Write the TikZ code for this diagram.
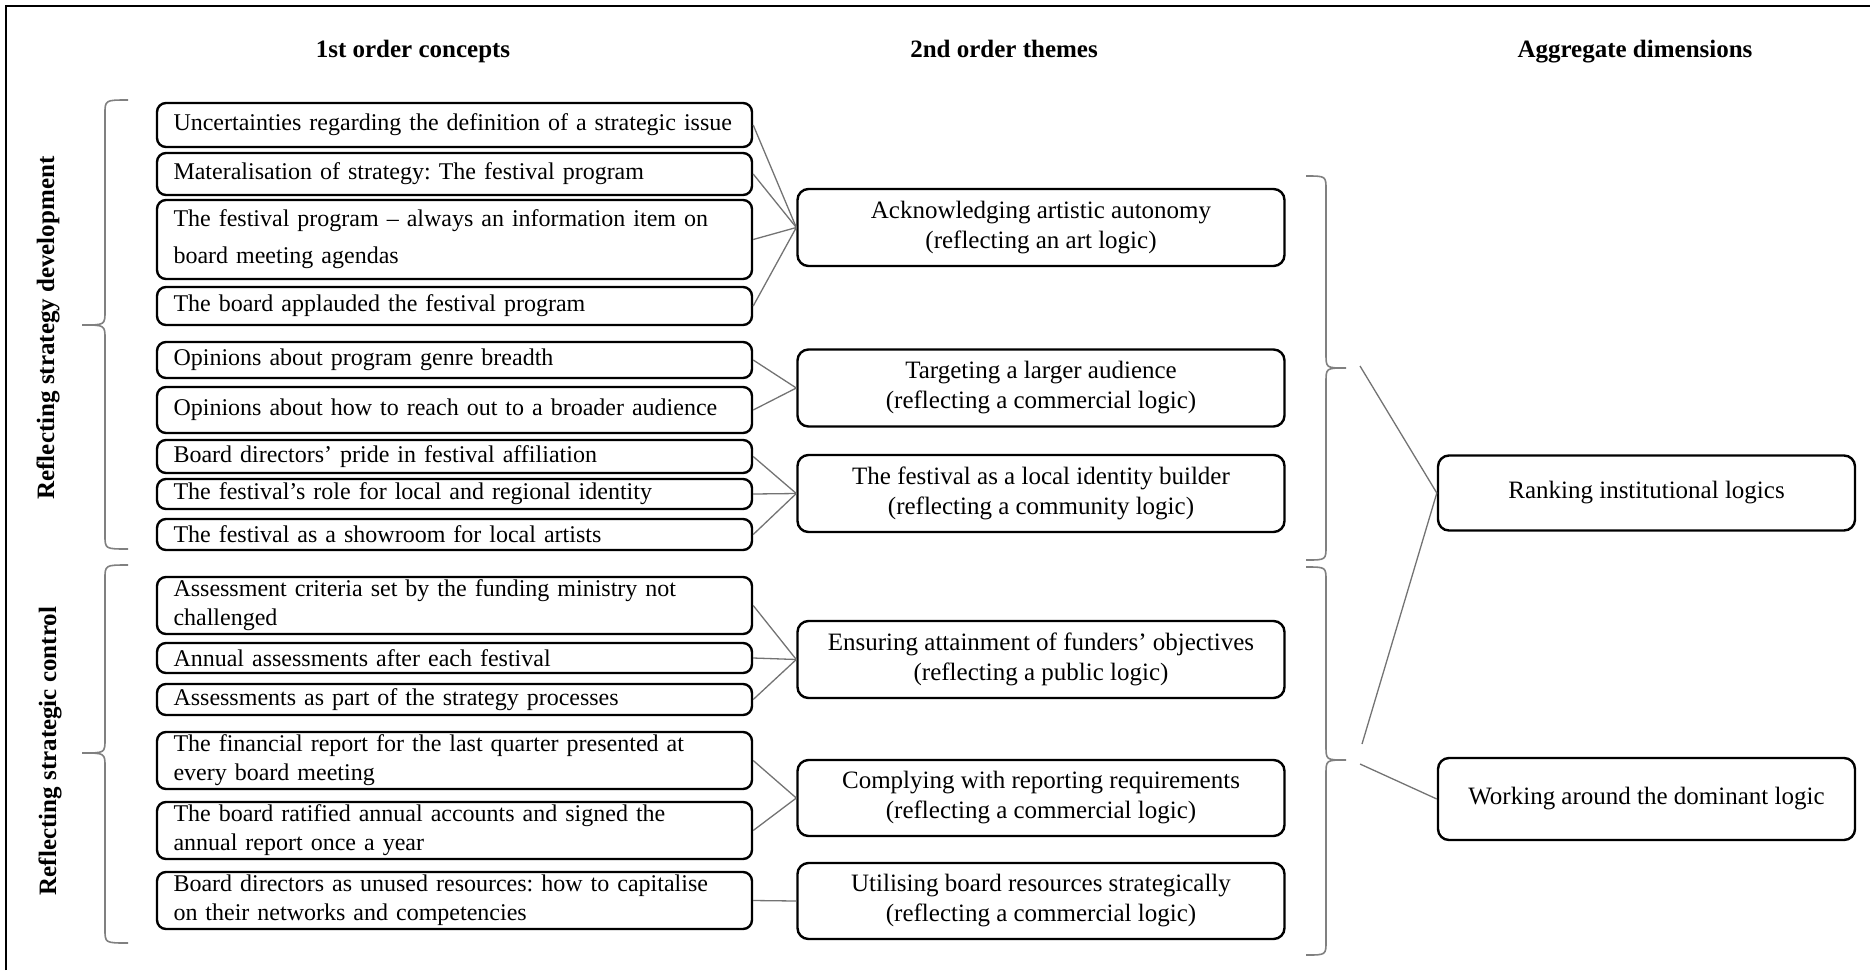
\documentclass[tikz,border=0pt]{standalone}
\usepackage{fontspec}
\setmainfont{Liberation Serif}
\usetikzlibrary{positioning}

\tikzset{
    concept/.style={draw, line width=2.4pt, rounded corners=9pt, align=left,
        text width=562pt, inner xsep=16.5pt, inner ysep=0pt,
        font=\fontsize{24}{29}\selectfont\frenchspacing},
    theme/.style={draw, line width=2.4pt, rounded corners=11pt, align=center,
        minimum width=487pt, minimum height=77pt, inner sep=0pt,
        font=\fontsize{25}{30}\selectfont\frenchspacing},
    dimension/.style={draw, line width=2.4pt, rounded corners=11pt, align=center,
        minimum width=417pt, inner sep=0pt, font=\fontsize{25}{30}\selectfont},
    header/.style={anchor=base, font=\fontsize{25}{30}\selectfont\bfseries},
    sidelabel/.style={rotate=90, font=\fontsize{25}{30}\selectfont\bfseries},
    link/.style={draw=black!55, line width=1.3pt},
    curly/.style={draw=black!50, line width=1.6pt},
}

% spine x, top, tip, bottom, signed reach of the hooks
\newcommand{\curlybrace}[5]{%
    \draw[curly] ({#1+#5},#2) .. controls (#1,#2) .. (#1,{#2+14})
        -- (#1,{#3-14}) .. controls (#1,#3) .. ({#1-#5},#3)
        .. controls (#1,#3) .. (#1,{#3+14})
        -- (#1,{#4-14}) .. controls (#1,#4) .. ({#1+#5},#4);}

\begin{document}
\begin{tikzpicture}[x=1pt, y=-1pt]
    \useasboundingbox (0,0) rectangle (1870,970);
    \draw[line width=2pt] (6,970) -- (6,6) -- (1870,6);

    % headers
    \node[header] (h1) at (413,57) {1st order concepts};
    \node[header] (h2) at (1004,57) {2nd order themes};
    \node[header] (h3) at (1635,57) {Aggregate dimensions};

    % 1st order concepts
    \node[concept, minimum height=44pt] (c1) at (454.5,125) {Uncertainties regarding the definition of a strategic issue};
    \node[concept, minimum height=42pt] (c2) at (454.5,174) {Materalisation of strategy: The festival program};
    \node[concept, minimum height=79pt] (c3) at (454.5,239.5) {The festival program -- always an information item on\\[8pt]board meeting agendas};
    \node[concept, minimum height=38pt] (c4) at (454.5,306) {The board applauded the festival program};
    \node[concept, minimum height=36pt] (c5) at (454.5,360) {Opinions about program genre breadth};
    \node[concept, minimum height=46pt] (c6) at (454.5,410) {Opinions about how to reach out to a broader audience};
    \node[concept, minimum height=33pt] (c7) at (454.5,456.5) {Board directors’ pride in festival affiliation};
    \node[concept, minimum height=30pt] (c8) at (454.5,494) {The festival’s role for local and regional identity};
    \node[concept, minimum height=31pt] (c9) at (454.5,534.5) {The festival as a showroom for local artists};
    \node[concept, minimum height=57pt] (c10) at (454.5,605.5) {Assessment criteria set by the funding ministry not\\challenged};
    \node[concept, minimum height=30pt] (c11) at (454.5,658) {Annual assessments after each festival};
    \node[concept, minimum height=31pt] (c12) at (454.5,699.5) {Assessments as part of the strategy processes};
    \node[concept, minimum height=57pt] (c13) at (454.5,760.5) {The financial report for the last quarter presented at\\every board meeting};
    \node[concept, minimum height=57pt] (c14) at (454.5,830.5) {The board ratified annual accounts and signed the\\annual report once a year};
    \node[concept, minimum height=57pt] (c15) at (454.5,900.5) {Board directors as unused resources: how to capitalise\\on their networks and competencies};

    % 2nd order themes
    \node[theme] (t1) at (1041,227.5) {Acknowledging artistic autonomy\\(reflecting an art logic)};
    \node[theme] (t2) at (1041,388) {Targeting a larger audience\\(reflecting a commercial logic)};
    \node[theme] (t3) at (1041,493.5) {The festival as a local identity builder\\(reflecting a community logic)};
    \node[theme] (t4) at (1041,659.5) {Ensuring attainment of funders’ objectives\\(reflecting a public logic)};
    \node[theme, minimum height=76pt] (t5) at (1041,798) {Complying with reporting requirements\\(reflecting a commercial logic)};
    \node[theme, minimum height=76pt] (t6) at (1041,901) {Utilising board resources strategically\\(reflecting a commercial logic)};

    % aggregate dimensions
    \node[dimension, minimum height=75pt] (d1) at (1646.5,493) {Ranking institutional logics};
    \node[dimension, minimum height=82pt] (d2) at (1646.5,799) {Working around the dominant logic};

    % side labels and braces
    \node[sidelabel] (l1) at (48,328) {Reflecting strategy development};
    \node[sidelabel] (l2) at (50,751) {Reflecting strategic control};
    \curlybrace{105}{100}{325}{549}{23}
    \curlybrace{105}{565}{753}{943}{23}
    \curlybrace{1326}{176}{368}{560}{-20}
    \curlybrace{1326}{567}{760}{955}{-20}

    \coordinate (s1) at (1360,366);
    \coordinate (s2) at (1362,744);
    \coordinate (s3) at (1360,764);

    \foreach \c in {c1,c2,c3,c4}
        \draw[link] (\c.east) -- (t1.west);
    \foreach \c in {c5,c6}
        \draw[link] (\c.east) -- (t2.west);
    \foreach \c in {c7,c8,c9}
        \draw[link] (\c.east) -- (t3.west);
    \foreach \c in {c10,c11,c12}
        \draw[link] (\c.east) -- (t4.west);
    \foreach \c in {c13,c14}
        \draw[link] (\c.east) -- (t5.west);
    \draw[link] (c15.east) -- (t6.west);

    \draw[link] (s1) -- (d1.west);
    \draw[link] (s2) -- (d1.west);
    \draw[link] (s3) -- (d2.west);
\end{tikzpicture}
\end{document}
